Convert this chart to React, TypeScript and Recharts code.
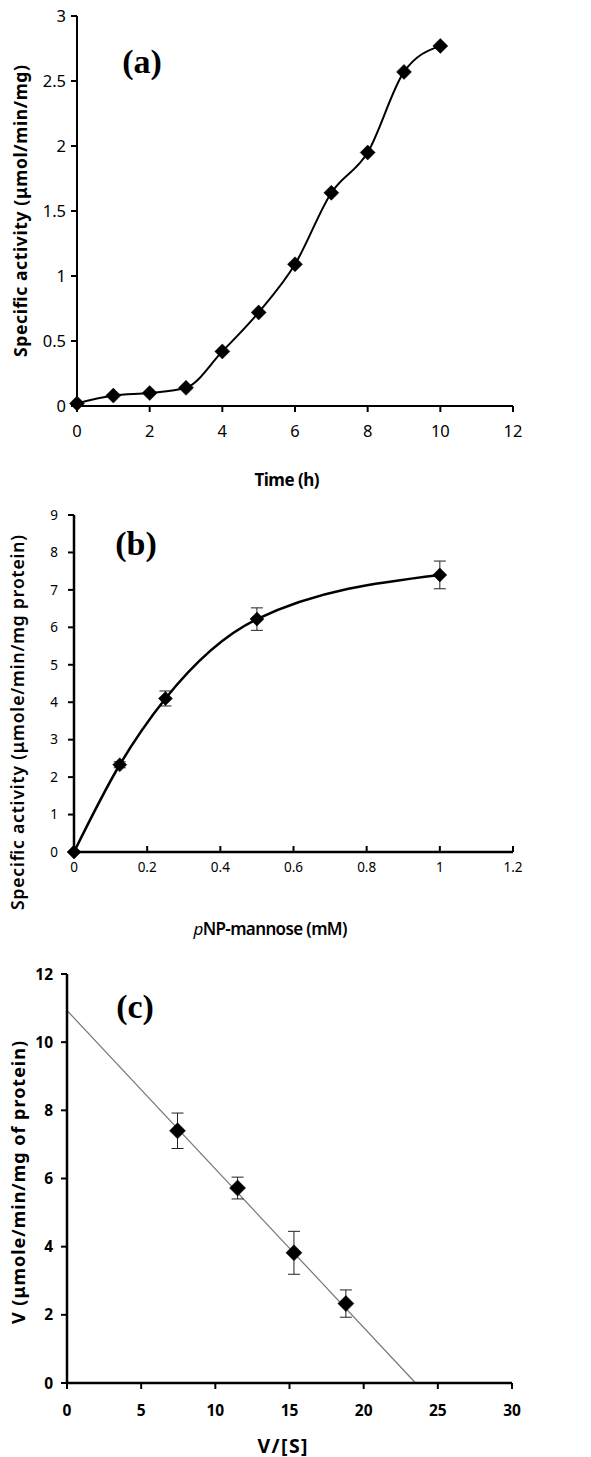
import React from 'react';
import { ComposedChart, Line, Scatter, XAxis, YAxis, ErrorBar, Label } from 'recharts';

// Panel (a): time course
const timeH = [0, 1, 2, 3, 4, 5, 6, 7, 8, 9, 10];
const activityA = [0.02, 0.08, 0.1, 0.14, 0.42, 0.72, 1.09, 1.64, 1.95, 2.57, 2.77];
const xTicksA = [0, 2, 4, 6, 8, 10, 12];
const yTicksA = [0, 0.5, 1, 1.5, 2, 2.5, 3];

// Panel (b): substrate saturation
const substrateMM = [0, 0.125, 0.25, 0.5, 1];
const activityB = [0, 2.33, 4.1, 6.22, 7.4];
const errorB = [0, 0.08, 0.2, 0.3, 0.37];
const xTicksB = [0, 0.2, 0.4, 0.6, 0.8, 1, 1.2];
const yTicksB = [0, 1, 2, 3, 4, 5, 6, 7, 8, 9];

// Panel (c): Eadie-Hofstee
const vOverS = [7.45, 11.5, 15.3, 18.8];
const velocityC = [7.4, 5.72, 3.82, 2.33];
const errorC = [0.52, 0.32, 0.63, 0.4];
const fitX = [0, 23.5];
const fitY = [10.93, 0];
const xTicksC = [0, 5, 10, 15, 20, 25, 30];
const yTicksC = [0, 2, 4, 6, 8, 10, 12];

const dataA = timeH.map((x, i) => ({ x, y: activityA[i] }));
const dataB = substrateMM.map((x, i) => ({ x, y: activityB[i], e: errorB[i] }));
const dataC = vOverS.map((x, i) => ({ x, y: velocityC[i], e: errorC[i] }));
const fitC = fitX.map((x, i) => ({ x, y: fitY[i] }));

const SANS = '"Noto Sans", "Open Sans", sans-serif';

const diamond = (r: number) => (props: any) => {
  const { cx, cy, index } = props;
  if (cx == null || cy == null) return <g key={`d${index}`} />;
  return (
    <polygon
      key={`d${index}`}
      points={`${cx},${cy - r} ${cx + r},${cy} ${cx},${cy + r} ${cx - r},${cy}`}
      fill="#000"
      stroke="#000"
      strokeWidth={0.5}
    />
  );
};

const yTitle = (
  text: React.ReactNode,
  dxFromLeft: number,
  dyShift: number,
  size: number,
  weight: number,
  len: number
) =>
  (props: any) => {
    const vb = props.viewBox || {};
    const cx = (vb.x ?? 0) + dxFromLeft;
    const cy = (vb.y ?? 0) + (vb.height ?? 0) / 2 + dyShift;
    return (
      <text
        x={cx}
        y={cy}
        transform={`rotate(-90 ${cx} ${cy})`}
        textAnchor="middle"
        dominantBaseline="central"
        fontFamily={SANS}
        fontSize={size}
        fontWeight={weight}
        fill="#000"
        textLength={len}
        lengthAdjust="spacing"
      >
        {text}
      </text>
    );
  };

const xTitle = (
  text: React.ReactNode,
  fromBottom: number,
  dx: number,
  size: number,
  weight: number,
  len: number
) =>
  (props: any) => {
    const vb = props.viewBox || {};
    const cx = (vb.x ?? 0) + (vb.width ?? 0) / 2 + dx;
    const cy = (vb.y ?? 0) + (vb.height ?? 0) - fromBottom;
    return (
      <text
        x={cx}
        y={cy}
        textAnchor="middle"
        dominantBaseline="central"
        fontFamily={SANS}
        fontSize={size}
        fontWeight={weight}
        fill="#000"
        textLength={len}
        lengthAdjust="spacing"
      >
        {text}
      </text>
    );
  };

const axisStyle = { stroke: '#000', strokeWidth: 2 };

const panelLabel = (text: string, left: number, top: number) => (
  <div
    style={{
      position: 'absolute',
      left,
      top,
      transform: 'translate(-50%, -50%)',
      fontFamily: '"Liberation Serif", "Times New Roman", serif',
      fontWeight: 'bold',
      fontSize: 34,
      color: '#000',
      lineHeight: 1,
      whiteSpace: 'nowrap',
    }}
  >
    {text}
  </div>
);

export default function App() {
  const tickA = { fontSize: 16.5, fill: '#000', fontFamily: SANS };
  const tickB = { fontSize: 13.5, fill: '#000', fontFamily: SANS };
  const tickC = { fontSize: 15.5, fill: '#000', fontFamily: SANS, fontWeight: 700 };
  return (
    <div style={{ position: 'absolute', left: 0, top: 0, width: 591, height: 1457, background: '#fff' }}>
      {/* Panel (a) */}
      <div style={{ position: 'absolute', left: 0, top: 0 }}>
        <ComposedChart width={591} height={495} data={dataA} margin={{ top: 16, right: 78, bottom: 0, left: 0 }}>
          <XAxis
            type="number"
            dataKey="x"
            domain={[0, 12]}
            ticks={xTicksA}
            height={89}
            tick={tickA}
            tickSize={6}
            tickMargin={13}
            axisLine={axisStyle}
            tickLine={axisStyle}
          >
            <Label content={xTitle('Time (h)', 16, -8, 17, 700, 65)} />
          </XAxis>
          <YAxis
            type="number"
            domain={[0, 3]}
            ticks={yTicksA}
            width={77}
            tick={tickA}
            tickSize={6}
            tickMargin={5}
            axisLine={axisStyle}
            tickLine={axisStyle}
          >
            <Label content={yTitle('Specific activity (μmol/min/mg)', 20, 0, 17.5, 700, 292)} />
          </YAxis>
          <Line
            type="monotone"
            dataKey="y"
            stroke="#000"
            strokeWidth={2}
            dot={diamond(7.5)}
            activeDot={false}
            isAnimationActive={false}
          />
        </ComposedChart>
        {panelLabel('(a)', 142, 62)}
      </div>

      {/* Panel (b) */}
      <div style={{ position: 'absolute', left: 0, top: 495 }}>
        <ComposedChart width={591} height={465} data={dataB} margin={{ top: 20, right: 78, bottom: 0, left: 0 }}>
          <XAxis
            type="number"
            dataKey="x"
            domain={[0, 1.2]}
            ticks={xTicksB}
            height={108}
            tick={tickB}
            tickSize={-6}
            tickMargin={16}
            axisLine={{ stroke: '#000', strokeWidth: 2.5 }}
            tickLine={axisStyle}
          >
            <Label
              content={xTitle(
                <>
                  <tspan fontStyle="italic" fontWeight={400}>p</tspan>
                  <tspan>NP-mannose (mM)</tspan>
                </>,
                32,
                -23,
                17,
                600,
                154
              )}
            />
          </XAxis>
          <YAxis
            type="number"
            domain={[0, 9]}
            ticks={yTicksB}
            width={74}
            tick={tickB}
            tickSize={6}
            tickMargin={10}
            axisLine={{ stroke: '#000', strokeWidth: 2.5 }}
            tickLine={axisStyle}
          >
            <Label content={yTitle('Specific activity (μmole/min/mg protein)', 17, 39, 17.5, 600, 375)} />
          </YAxis>
          <Line
            type="monotone"
            dataKey="y"
            stroke="#000"
            strokeWidth={2.5}
            dot={diamond(7)}
            activeDot={false}
            isAnimationActive={false}
          >
            <ErrorBar dataKey="e" direction="y" width={6} stroke="#222" strokeWidth={1} />
          </Line>
        </ComposedChart>
        {panelLabel('(b)', 136, 49)}
      </div>

      {/* Panel (c) */}
      <div style={{ position: 'absolute', left: 0, top: 960 }}>
        <ComposedChart width={591} height={497} margin={{ top: 14, right: 79, bottom: 0, left: 0 }}>
          <XAxis
            type="number"
            dataKey="x"
            domain={[0, 30]}
            ticks={xTicksC}
            height={74}
            tick={tickC}
            tickSize={6}
            tickMargin={16}
            axisLine={{ stroke: '#000', strokeWidth: 2.5 }}
            tickLine={axisStyle}
            allowDuplicatedCategory={false}
          >
            <Label content={xTitle('V/[S]', 12, -7, 19.5, 700, 50)} />
          </XAxis>
          <YAxis
            type="number"
            dataKey="y"
            domain={[0, 12]}
            ticks={yTicksC}
            width={67}
            tick={tickC}
            tickSize={6}
            tickMargin={8}
            axisLine={{ stroke: '#000', strokeWidth: 2.5 }}
            tickLine={axisStyle}
          >
            <Label content={yTitle('V (μmole/min/mg of protein)', 18, 4, 18, 700, 283)} />
          </YAxis>
          <Line
            data={fitC}
            type="linear"
            dataKey="y"
            stroke="#777"
            strokeWidth={1.2}
            dot={false}
            activeDot={false}
            isAnimationActive={false}
          />
          <Scatter data={dataC} dataKey="y" fill="#000" shape={diamond(8)} isAnimationActive={false}>
            <ErrorBar dataKey="e" direction="y" width={6} stroke="#222" strokeWidth={1} />
          </Scatter>
        </ComposedChart>
        {panelLabel('(c)', 135, 47)}
      </div>
    </div>
  );
}
